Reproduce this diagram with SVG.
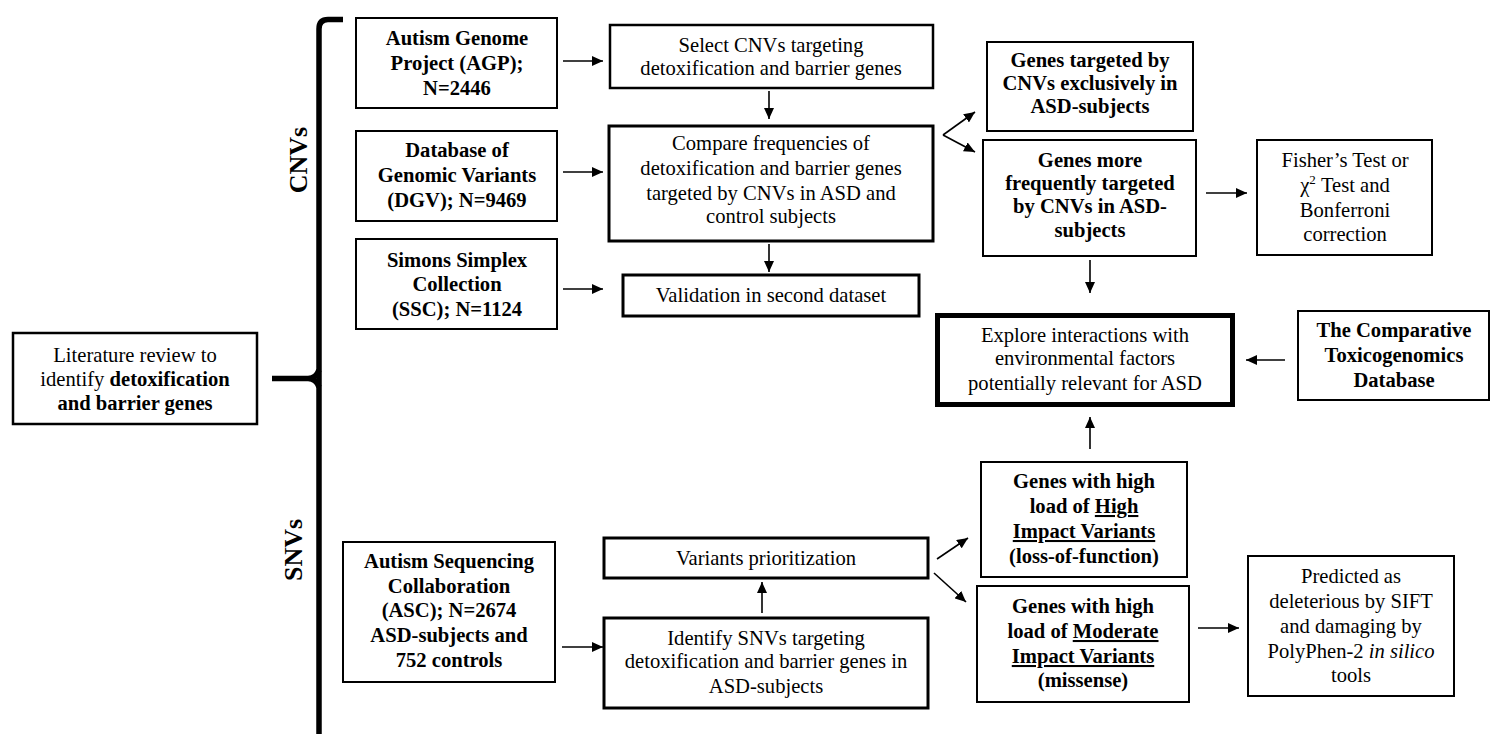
<svg xmlns="http://www.w3.org/2000/svg" width="1491" height="734" viewBox="0 0 1491 734" xml:space="preserve">
<style>
text{font-family:'Liberation Serif','Times New Roman',serif;font-size:20.6px;fill:#000;text-anchor:middle}
.b{font-weight:bold}
.box{fill:#fff;stroke:#000;stroke-width:2}
.box3{fill:#fff;stroke:#000;stroke-width:3}
.box5{fill:#fff;stroke:#000;stroke-width:5}
.lbl{font-weight:bold;font-size:26px}
.c{stroke:#000;stroke-width:1.6;fill:none;marker-end:url(#ah)}
.brace{stroke:#000;stroke-width:5.5;fill:none}
</style>
<defs>
<marker id="ah" markerUnits="userSpaceOnUse" markerWidth="11" markerHeight="10" refX="11" refY="5" orient="auto">
<path d="M0,0 L11,5 L0,10 z" fill="#000"/>
</marker>
</defs>
<rect width="1491" height="734" fill="#fff"/>

<g id="brace">
<path class="brace" d="M343,19.5 L328,19.5 Q319,19.5 319,29 L319,734"/>
<path class="brace" d="M272,378.5 L308,378.5 Q316,378.5 319,370 M308,378.5 Q316,378.5 319,387"/>
<text class="lbl" transform="translate(307,160) rotate(-90)">CNVs</text>
<text class="lbl" transform="translate(302,550) rotate(-90)">SNVs</text>
</g>

<g id="literature">
<rect class="box" x="13" y="333" width="244" height="91" style="stroke-width:2.5"/>
<text x="135" y="362">Literature review to</text>
<text x="135" y="386">identify <tspan class="b">detoxification</tspan></text>
<text x="135" y="410" class="b">and barrier genes</text>
</g>

<g id="agp">
<rect class="box" x="356" y="18" width="201" height="90"/>
<text class="b" x="457" y="45">Autism Genome</text>
<text class="b" x="457" y="70">Project (AGP);</text>
<text class="b" x="457" y="95">N=2446</text>
</g>

<g id="dgv">
<rect class="box" x="356" y="131" width="201" height="90"/>
<text class="b" x="457" y="157">Database of</text>
<text class="b" x="457" y="182">Genomic Variants</text>
<text class="b" x="457" y="207">(DGV);  N=9469</text>
</g>

<g id="ssc">
<rect class="box" x="356" y="239" width="201" height="90"/>
<text class="b" x="457" y="267">Simons Simplex</text>
<text class="b" x="457" y="291">Collection</text>
<text class="b" x="457" y="316">(SSC); N=1124</text>
</g>

<g id="select">
<rect class="box" x="610" y="25" width="323" height="63" style="stroke-width:2.5"/>
<text x="771" y="52">Select CNVs targeting</text>
<text x="771" y="75">detoxification and barrier genes</text>
</g>

<g id="compare">
<rect class="box3" x="609" y="126" width="324" height="115"/>
<text x="771" y="150">Compare frequencies of</text>
<text x="771" y="175">detoxification and barrier genes</text>
<text x="771" y="200">targeted by CNVs in ASD and</text>
<text x="771" y="223">control subjects</text>
</g>

<g id="validation">
<rect class="box3" x="623" y="275" width="296" height="41"/>
<text x="771" y="302">Validation in second dataset</text>
</g>

<g id="exclusive">
<rect class="box" x="987" y="42" width="206" height="89"/>
<text class="b" x="1090" y="67">Genes targeted by</text>
<text class="b" x="1090" y="90">CNVs exclusively in</text>
<text class="b" x="1090" y="113">ASD-subjects</text>
</g>

<g id="frequent">
<rect class="box" x="983" y="140" width="213" height="116"/>
<text class="b" x="1090" y="167">Genes more</text>
<text class="b" x="1090" y="190">frequently targeted</text>
<text class="b" x="1090" y="213">by CNVs in ASD-</text>
<text class="b" x="1090" y="237">subjects</text>
</g>

<g id="fisher">
<rect class="box" x="1257" y="140" width="175" height="115"/>
<text x="1345" y="167">Fisher’s Test or</text>
<text x="1345" y="192">χ<tspan dy="-8" font-size="13">2</tspan><tspan dy="8"> Test and</tspan></text>
<text x="1345" y="217">Bonferroni</text>
<text x="1345" y="241">correction</text>
</g>

<g id="explore">
<rect class="box5" x="937.5" y="315.5" width="295" height="89"/>
<text x="1085" y="342">Explore interactions with</text>
<text x="1085" y="365">environmental  factors</text>
<text x="1085" y="390">potentially relevant for ASD</text>
</g>

<g id="ctd">
<rect class="box" x="1298" y="311" width="191" height="89"/>
<text class="b" x="1394" y="337">The Comparative</text>
<text class="b" x="1394" y="362">Toxicogenomics</text>
<text class="b" x="1394" y="387">Database</text>
</g>

<g id="high">
<rect class="box" x="981" y="462" width="206" height="115"/>
<text class="b" x="1084" y="488">Genes with high</text>
<text class="b" x="1084" y="513">load of <tspan text-decoration="underline">High</tspan></text>
<text class="b" x="1084" y="538" text-decoration="underline">Impact Variants</text>
<text class="b" x="1084" y="563">(loss-of-function)</text>
</g>

<g id="moderate">
<rect class="box" x="977" y="586" width="212" height="116"/>
<text class="b" x="1083" y="613">Genes with high</text>
<text class="b" x="1083" y="638">load of <tspan text-decoration="underline">Moderate</tspan></text>
<text class="b" x="1083" y="663" text-decoration="underline">Impact Variants</text>
<text class="b" x="1083" y="687">(missense)</text>
</g>

<g id="predicted">
<rect class="box" x="1248" y="556" width="206" height="140"/>
<text x="1351" y="583">Predicted as</text>
<text x="1351" y="608">deleterious by SIFT</text>
<text x="1351" y="633">and damaging  by</text>
<text x="1351" y="658">PolyPhen-2 <tspan font-style="italic">in silico</tspan></text>
<text x="1351" y="682">tools</text>
</g>

<g id="asc">
<rect class="box" x="343" y="542" width="212" height="140"/>
<text class="b" x="449" y="568">Autism Sequencing</text>
<text class="b" x="449" y="593">Collaboration</text>
<text class="b" x="449" y="617">(ASC);  N=2674</text>
<text class="b" x="449" y="642">ASD-subjects and</text>
<text class="b" x="449" y="667">752 controls</text>
</g>

<g id="variants">
<rect class="box3" x="604" y="538" width="324" height="40"/>
<text x="766" y="565">Variants prioritization</text>
</g>

<g id="identify">
<rect class="box3" x="604" y="618" width="324" height="90"/>
<text x="766" y="645">Identify SNVs targeting</text>
<text x="766" y="668">detoxification and barrier genes in</text>
<text x="766" y="693">ASD-subjects</text>
</g>

<g id="connectors">
<line class="c" x1="563" y1="61" x2="603" y2="61"/>
<line class="c" x1="563" y1="172" x2="603" y2="172"/>
<line class="c" x1="563" y1="289" x2="603" y2="289"/>
<line class="c" x1="769" y1="91" x2="769" y2="119"/>
<line class="c" x1="769" y1="244" x2="769" y2="272"/>
<line class="c" x1="943" y1="135" x2="975" y2="112"/>
<line class="c" x1="943" y1="135" x2="975" y2="152"/>
<line class="c" x1="1090" y1="260" x2="1090" y2="293"/>
<line class="c" x1="1206" y1="193" x2="1247" y2="193"/>
<line class="c" x1="1285" y1="360" x2="1246" y2="360"/>
<line class="c" x1="1090" y1="449" x2="1090" y2="417"/>
<line class="c" x1="1198" y1="628" x2="1239" y2="628"/>
<line class="c" x1="562" y1="647" x2="603" y2="647"/>
<line class="c" x1="762" y1="613" x2="762" y2="582"/>
<line class="c" x1="937" y1="559" x2="968" y2="538"/>
<line class="c" x1="934" y1="573" x2="966" y2="602"/>
</g>
</svg>
